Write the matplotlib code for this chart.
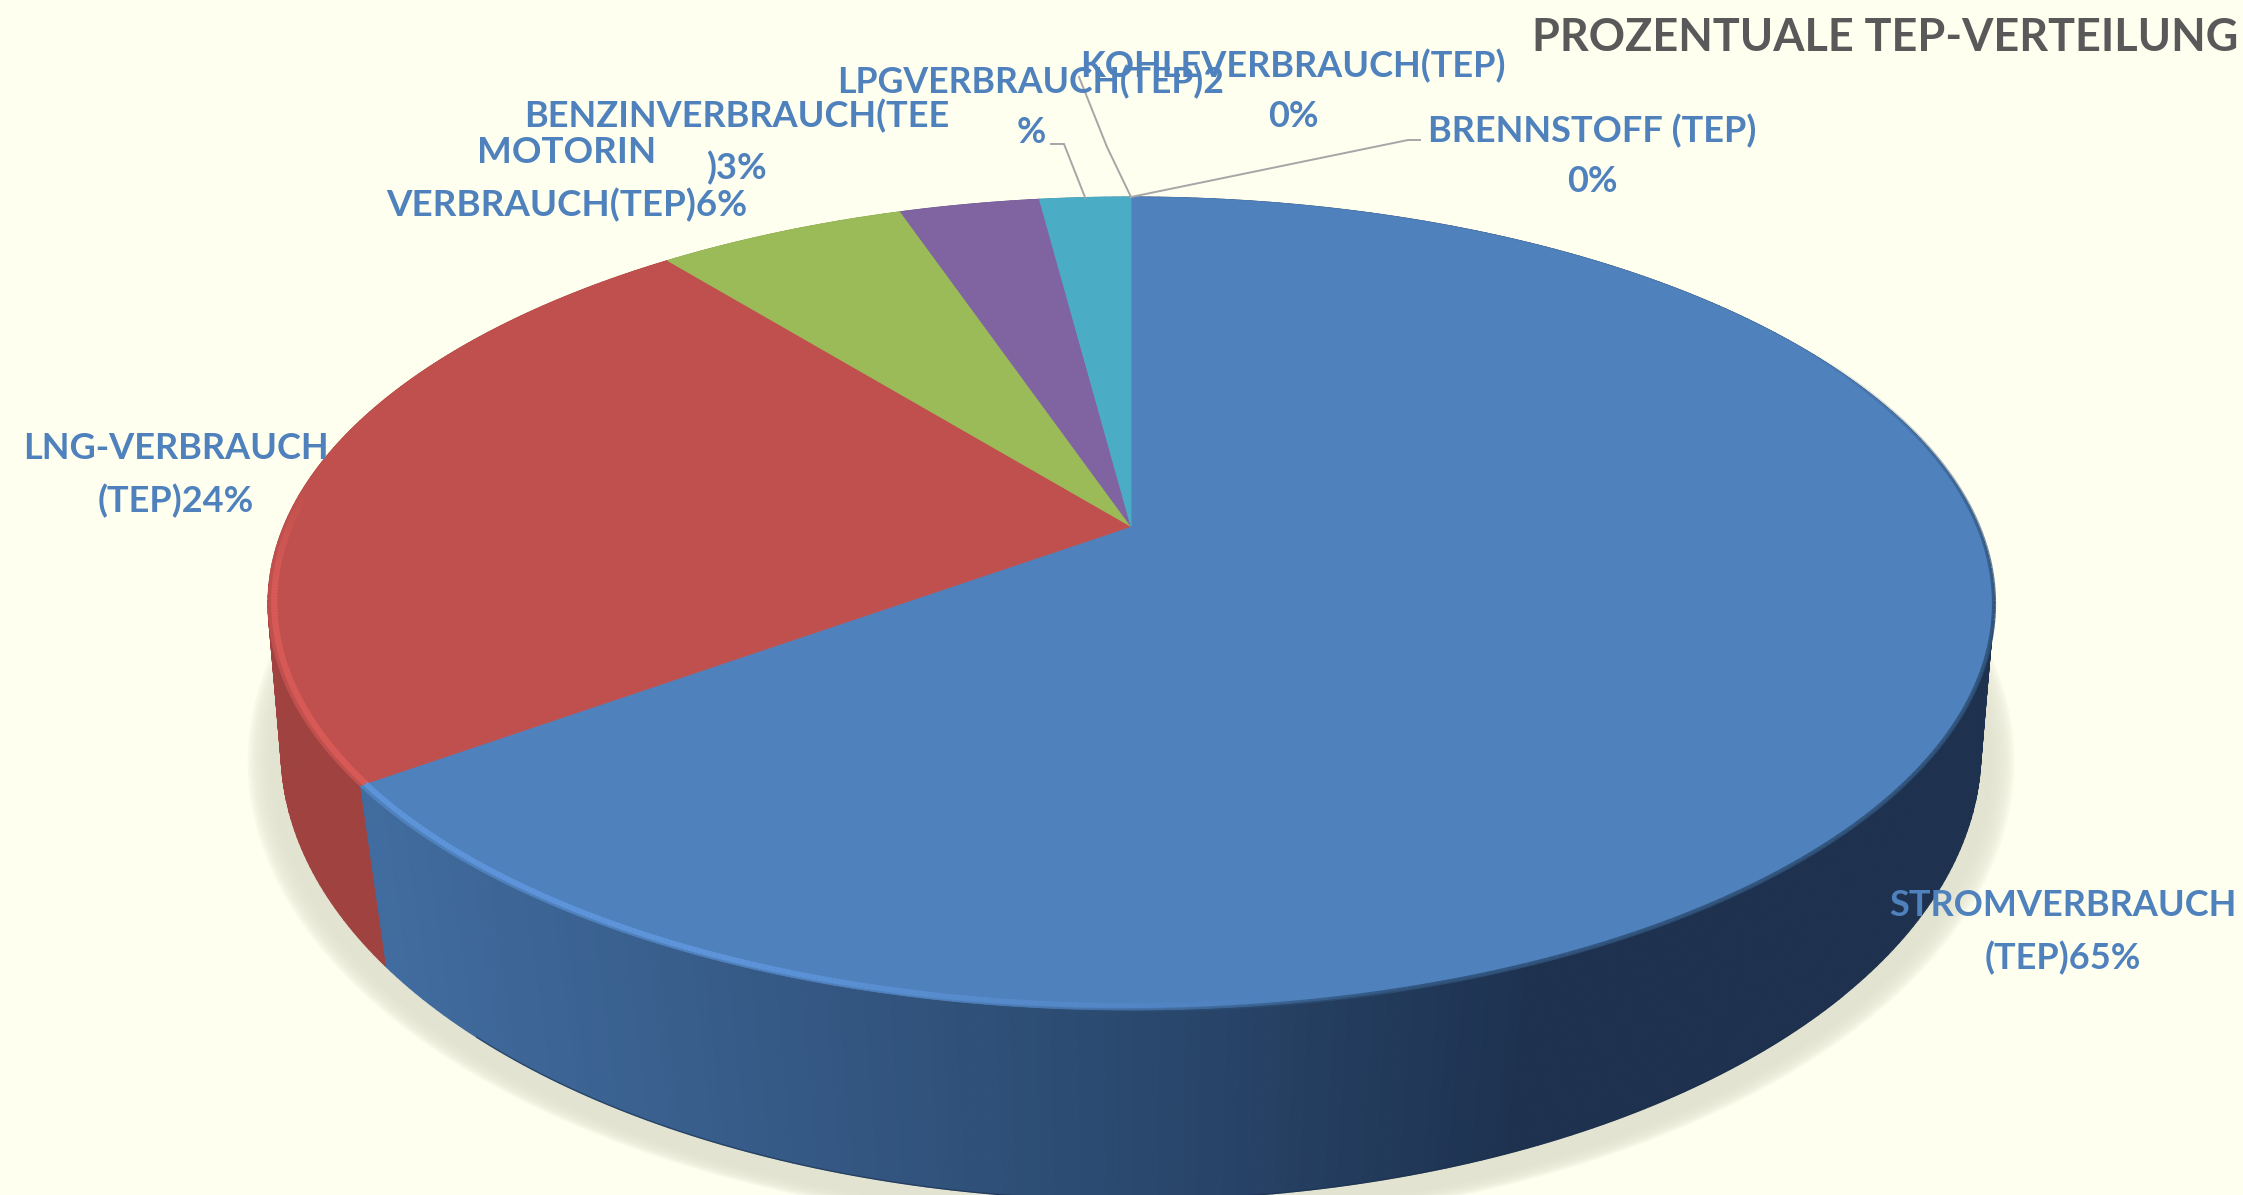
import numpy as np
import matplotlib
matplotlib.use("Agg")
import matplotlib.pyplot as plt
from matplotlib.collections import LineCollection, PolyCollection
from matplotlib.colors import to_rgb

# ---- data ----
categories = ["STROMVERBRAUCH (TEP)", "LNG-VERBRAUCH (TEP)", "MOTORIN VERBRAUCH (TEP)",
              "BENZINVERBRAUCH (TEE)", "LPGVERBRAUCH (TEP)", "KOHLEVERBRAUCH (TEP)", "BRENNSTOFF (TEP)"]
shares = [65.0, 24.2, 5.6, 3.15, 2.05, 0, 0]
top_colors = ["#4F81BD", "#C0504D", "#9BBB59", "#8064A2", "#4BACC6", "#4F81BD", "#4F81BD"]
title_text = "PROZENTUALE TEP-VERTEILUNG"
label_texts = ["STROMVERBRAUCH\n(TEP)65%", "LNG-VERBRAUCH\n(TEP)24%", "MOTORIN\nVERBRAUCH(TEP)6%",
               "BENZINVERBRAUCH(TEE\n)3%", "LPGVERBRAUCH(TEP)2\n%", "KOHLEVERBRAUCH(TEP)\n0%",
               "BRENNSTOFF (TEP)\n0%"]

# ---- layout (pixels of the 2243x1195 canvas) ----
W, H = 2243, 1195
BG = "#FFFFF0"
TXT = "#4F81BD"
CX = 1131.0
label_pos = [(2063, 932), (176, 475), (567, 179), (737, 142), (1031, 107), (1293, 91), (1592, 156)]
label_size = [26, 26, 26.5, 26, 25.7, 26, 26]
leader_elbows = {4: [(1051, 144), (1064, 144)], 5: [(1079, 77), (1107, 147)], 6: [(1420, 140), (1408, 140)]}


def ring(top, bottom, apex, half_w):
    """Perspective projection of a circle with its centre at (CX, apex)."""
    C = (2 * apex - top - bottom) / (bottom - top)
    A = apex - top * (1 - C)
    R = half_w * np.sqrt(1 - C * C)

    def f(deg, r=1.0):
        t = np.radians(np.asarray(deg, float))
        u, v = r * np.sin(t), -r * np.cos(t)
        d = 1 + C * v
        return CX + R * u / d, (A * v + apex) / d
    return f


top_ring = ring(197, 1010, 526.4, 863)
low_ring = ring(300, 1200, 682.5, 850)

fig = plt.figure(figsize=(W / 100, H / 100), dpi=100, facecolor=BG)
ax = fig.add_axes([0, 0, 1, 1])
ax.set_xlim(0, W)
ax.set_ylim(H, 0)
ax.axis("off")

# soft shadow under the disc
aa = np.linspace(0, 360, 361)
lx, ly = low_ring(aa)
for k in range(14, 0, -1):
    s = 1 + k * 0.0028
    ax.fill(CX + (lx - CX) * s, 752 + (ly - 752) * s + 12, color="#E2E3D0", alpha=0.2, lw=0, zorder=1)

# wedge angles derive from the shares
edges = np.concatenate([[0], np.cumsum(shares)]) * 3.6
pal_left, pal_mid, pal_right = map(np.array, map(to_rgb, ["#416C9F", "#2B4A70", "#1E3250"]))


def side_color(i, x):
    if i == 0:
        t = (x - 370) / 740
        if t < 1:
            return tuple(pal_left + (pal_mid - pal_left) * max(t, 0))
        t = min((x - 1110) / 420, 1)
        return tuple(pal_mid + (pal_right - pal_mid) * t)
    c = np.array(to_rgb(top_colors[i])) * 0.83
    return tuple(c)


# side wall, built in narrow strips per wedge
for i in range(len(shares)):
    if shares[i] == 0:
        continue
    ang = np.arange(edges[i], edges[i + 1] + 0.75, 0.75)
    ang[-1] = min(ang[-1], edges[i + 1])
    tx, ty = top_ring(ang)
    bx, by = low_ring(ang)
    quads, cols = [], []
    for j in range(len(ang) - 1):
        quads.append([(tx[j], ty[j]), (tx[j + 1], ty[j + 1]), (bx[j + 1], by[j + 1]), (bx[j], by[j])])
        cols.append(side_color(i, (tx[j] + tx[j + 1]) / 2))
    ax.add_collection(PolyCollection(quads, facecolors=cols, edgecolors=cols, linewidths=0.8, zorder=2))

# bottom edge line
ba = np.arange(130, 225, 1.0)
bx, by = low_ring(ba)
ax.plot(bx, by, color="#1A2F4C", lw=1.0, alpha=0.6, zorder=2.5)

# top faces
for i in range(len(shares)):
    if shares[i] == 0:
        continue
    ang = np.linspace(edges[i], edges[i + 1], max(int(shares[i] * 8), 8))
    x, y = top_ring(ang)
    ax.fill(np.r_[CX, x], np.r_[526.4, y], color=top_colors[i], lw=0.6, zorder=3)


def rim_band(a0, a1, r, col, lw, alpha_fn):
    ang = np.linspace(a0, a1, 200)
    x, y = top_ring(ang, r)
    segs = np.stack([np.c_[x[:-1], y[:-1]], np.c_[x[1:], y[1:]]], axis=1)
    base = to_rgb(col)
    cols = [(*base, alpha_fn((k + 0.5) / 199)) for k in range(199)]
    ax.add_collection(LineCollection(segs, colors=cols, linewidths=lw, capstyle="butt", zorder=3.5))


ramp_in = lambda t: min(t * 3, 1.0)
ramp_out = lambda t: min((1 - t) * 5, 1.0)
# soft edge where the lit top meets the dark wall (right and bottom)
rim_band(60, 190, 1.000, "#2F5178", 3, lambda t: 0.9 * ramp_in(t) * ramp_out(t))
# bevel highlights on the near rim
b_end = edges[1]
rim_band(172, b_end, 0.993, "#5F97DE", 4, lambda t: 0.9 * min(t * 2.0, 1.0))
rim_band(b_end, 276, 0.993, "#DC5C58", 4.5, lambda t: 0.9 * min((1 - t) * 3, 1.0))

# leader lines from the rim to the labels
for i, pts in leader_elbows.items():
    mid = (edges[i] + edges[i + 1]) / 2
    ex, ey = top_ring(mid)
    xs = [p[0] for p in pts] + [float(ex)]
    ys = [p[1] for p in pts] + [float(ey)]
    ax.plot(xs, ys, color="#A6A6A6", lw=1.4, zorder=4, solid_joinstyle="miter")

# labels
for t, (x, y), fs in zip(label_texts, label_pos, label_size):
    ax.text(x, y, t, ha="center", va="center", ma="center", color=TXT, fontsize=fs,
            family="Lato", weight="bold", linespacing=1.65, zorder=6)
ax.text(2238, 38, title_text, ha="right", va="center", color="#595959", fontsize=32.4,
        family="Lato", weight="bold", zorder=6)

fig.savefig("out.png", dpi=100, facecolor=BG)
